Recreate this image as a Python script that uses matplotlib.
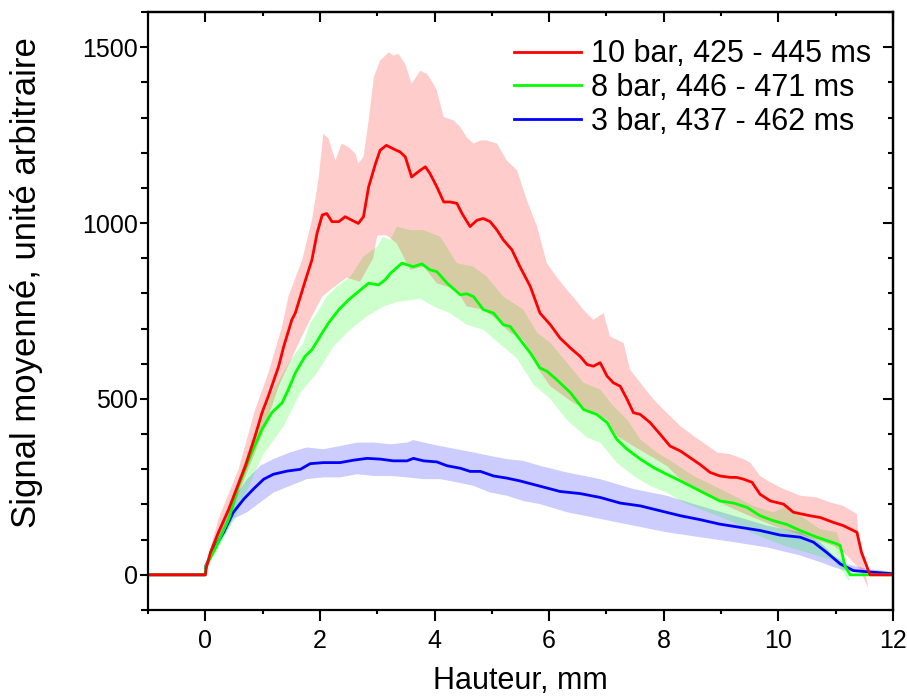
import matplotlib
matplotlib.use('Agg')
import matplotlib.pyplot as plt
import numpy as np
from matplotlib.ticker import MultipleLocator

# mean signal (x in mm)
x_red = [-1, 0, 0.02, 0.09, 0.23, 0.41, 0.52, 0.70, 0.87, 0.99, 1.10, 1.28, 1.37, 1.51, 1.57, 1.75, 1.86, 1.95,
         2.04, 2.12, 2.21, 2.33, 2.44, 2.56, 2.67, 2.76, 2.85, 2.97, 3.05, 3.16, 3.28, 3.40, 3.49, 3.60, 3.75,
         3.84, 3.92, 4.04, 4.16, 4.27, 4.39, 4.48, 4.62, 4.74, 4.85, 4.97, 5.09, 5.20, 5.35, 5.49, 5.67, 5.84,
         6.02, 6.19, 6.37, 6.54, 6.66, 6.77, 6.89, 7.01, 7.12, 7.24, 7.36, 7.47, 7.59, 7.76, 7.94, 8.11, 8.29,
         8.46, 8.63, 8.81, 8.98, 9.16, 9.27, 9.39, 9.54, 9.68, 9.86, 10.09, 10.26, 10.55, 10.73, 10.96, 11.13,
         11.37, 11.45, 11.57, 11.60, 12]
y_red = [0, 0, 22, 64, 121, 187, 234, 310, 395, 461, 508, 593, 650, 725, 744, 839, 895, 971,
         1023, 1027, 1004, 1004, 1018, 1008, 999, 1018, 1103, 1169, 1207, 1221, 1211, 1202, 1188, 1131, 1150,
         1160, 1141, 1103, 1060, 1060, 1056, 1027, 990, 1008, 1013, 1004, 980, 952, 924, 876, 820, 744,
         711, 673, 645, 621, 598, 593, 603, 565, 546, 536, 499, 461, 456, 433, 399, 366, 352,
         333, 314, 291, 281, 277, 277, 272, 263, 229, 210, 201, 178, 168, 163, 149, 140,
         121, 64, 12, 0, 0]

x_green = [-1, 0, 0.01, 0.17, 0.41, 0.58, 0.81, 0.99, 1.16, 1.34, 1.45, 1.57, 1.74, 1.86, 2.04, 2.15, 2.33,
           2.50, 2.67, 2.85, 3.02, 3.14, 3.23, 3.43, 3.63, 3.78, 3.92, 4.04, 4.22, 4.45, 4.56, 4.68, 4.85,
           5.03, 5.20, 5.32, 5.49, 5.67, 5.84, 5.96, 6.13, 6.37, 6.60, 6.83, 7.01, 7.18, 7.36, 7.59, 7.82,
           8.05, 8.29, 8.52, 8.75, 8.98, 9.22, 9.45, 9.68, 9.91, 10.15, 10.38, 10.67, 11.02, 11.08, 11.16,
           11.25, 12]
y_green = [0, 0, 26, 74, 159, 253, 348, 414, 461, 489, 527, 574, 621, 640, 688, 716, 754,
           782, 805, 829, 824, 839, 857, 886, 876, 884, 867, 862, 829, 796, 799, 791, 754,
           744, 711, 706, 669, 631, 588, 579, 555, 518, 470, 456, 433, 385, 357, 329, 305,
           286, 267, 248, 229, 210, 204, 192, 168, 154, 143, 126, 107, 88, 83, 26,
           0, 0]

x_blue = [-1, 0, 0.01, 0.15, 0.32, 0.49, 0.67, 0.84, 1.02, 1.19, 1.43, 1.66, 1.83, 2.06, 2.35, 2.59, 2.82,
          3.05, 3.28, 3.52, 3.63, 3.81, 4.04, 4.22, 4.45, 4.62, 4.80, 5.03, 5.26, 5.49, 5.84, 6.19, 6.54,
          6.89, 7.24, 7.59, 7.94, 8.29, 8.63, 8.98, 9.33, 9.68, 10.03, 10.38, 10.61, 10.84, 11.08, 11.31,
          11.60, 12.0]
y_blue = [0, 0, 26, 74, 121, 178, 215, 244, 272, 286, 295, 300, 316, 319, 319, 326, 331,
          329, 324, 324, 331, 324, 321, 310, 303, 294, 294, 281, 275, 267, 252, 237, 231,
          220, 204, 196, 182, 168, 157, 144, 135, 126, 113, 107, 93, 64, 31, 12,
          8, 3]

# spread (shaded band), upper and lower edges
xu_red = [0, 0.02, 0.23, 0.58, 0.87, 1.10, 1.34, 1.45, 1.69, 1.86, 1.98, 2.06, 2.15, 2.27, 2.38, 2.50, 2.62,
          2.67, 2.76, 2.85, 2.94, 3.05, 3.20, 3.28, 3.37, 3.49, 3.60, 3.75, 3.87, 3.98, 4.04, 4.16, 4.33,
          4.45, 4.56, 4.68, 4.80, 4.91, 5.09, 5.26, 5.44, 5.61, 5.79, 5.96, 6.13, 6.31, 6.42, 6.60, 6.77,
          6.95, 7.06, 7.30, 7.41, 7.59, 7.82, 8.05, 8.29, 8.52, 8.69, 8.93, 9.16, 9.39, 9.51, 9.68, 9.86,
          10.09, 10.38, 10.67, 10.90, 11.13, 11.37, 11.40, 11.48, 11.57]
yu_red = [0, 30, 159, 300, 470, 574, 706, 791, 895, 1008, 1131, 1254, 1240, 1178, 1226, 1216, 1197,
          1169, 1188, 1292, 1414, 1462, 1485, 1476, 1481, 1452, 1396, 1433, 1424, 1396, 1377, 1301, 1292,
          1273, 1244, 1226, 1235, 1235, 1226, 1178, 1150, 1065, 990, 886, 847, 810, 790, 753, 725,
          744, 678, 659, 584, 546, 499, 461, 423, 395, 376, 348, 343, 329, 319, 281, 263,
          244, 225, 220, 206, 196, 173, 111, 45, -40]
xl_red = [0, 0.02, 0.25, 0.5, 0.75, 1.0, 1.28, 1.66, 1.86, 2.04, 2.18, 2.47, 2.70, 2.93, 3.00, 3.17, 3.34,
          3.58, 3.81, 4.04, 4.39, 4.56, 4.85, 5.09, 5.32, 5.55, 5.79, 6.02, 6.42, 6.66, 7.01, 7.18, 7.47,
          7.76, 8.05, 8.29, 8.63, 8.93, 9.22, 9.56, 9.91, 10.26, 10.61, 10.96, 11.19, 11.42, 11.57]
yl_red = [0, 15, 95, 195, 300, 400, 536, 669, 735, 791, 810, 845, 833, 900, 965, 965, 942,
          867, 876, 829, 810, 763, 754, 725, 688, 669, 590, 536, 489, 470, 442, 395, 366,
          338, 310, 272, 234, 210, 187, 163, 140, 121, 102, 83, 55, 17, -40]

xu_green = [0, 0.02, 0.5, 1.0, 1.48, 1.71, 1.83, 1.95, 2.12, 2.30, 2.53, 2.76, 3.00, 3.10, 3.23, 3.34, 3.58,
            3.81, 4.10, 4.39, 4.68, 4.91, 5.20, 5.55, 5.79, 6.02, 6.31, 6.60, 6.89, 7.12, 7.36, 7.59, 7.88,
            8.17, 8.52, 8.75, 9.22, 9.56, 9.91, 10.15, 10.38, 10.73, 11.02, 11.10, 11.19, 11.25]
yu_green = [0, 25, 235, 470, 610, 659, 716, 744, 791, 820, 848, 905, 933, 961, 952, 990, 980,
            980, 961, 886, 876, 848, 791, 754, 688, 660, 603, 546, 527, 480, 442, 385, 348,
            319, 281, 263, 225, 196, 178, 196, 168, 130, 121, 83, 8, -11]
xl_green = [0, 0.02, 0.5, 1.0, 1.37, 1.66, 1.95, 2.24, 2.53, 2.82, 3.11, 3.34, 3.75, 3.98, 4.27, 4.56, 4.85,
            5.15, 5.44, 5.73, 6.02, 6.31, 6.66, 6.89, 7.18, 7.47, 7.76, 8.05, 8.34, 8.63, 8.93, 9.22, 9.51,
            9.80, 10.09, 10.38, 10.67, 10.96, 11.13, 11.22]
yl_green = [0, 15, 155, 340, 423, 518, 574, 650, 697, 735, 763, 775, 785, 763, 744, 711, 697,
            655, 615, 540, 500, 440, 390, 376, 319, 281, 253, 234, 206, 187, 168, 149, 121,
            102, 83, 69, 55, 41, 8, -16]

xu_blue = [0, 0.01, 0.26, 0.49, 0.73, 0.96, 1.19, 1.48, 1.77, 2.06, 2.35, 2.65, 2.94, 3.23, 3.52, 3.63, 3.81,
           4.10, 4.39, 4.68, 4.97, 5.26, 5.55, 5.84, 6.31, 6.89, 7.47, 8.05, 8.63, 9.22, 9.80, 10.38, 10.73,
           10.96, 11.19, 11.54, 12]
yu_blue = [0, 30, 140, 215, 272, 310, 329, 348, 362, 357, 366, 376, 376, 371, 376, 383, 376,
           366, 357, 348, 338, 329, 324, 310, 291, 272, 244, 225, 196, 168, 140, 121, 93,
           55, 31, 17, 8]
xl_blue = [0, 0.01, 0.26, 0.49, 0.73, 0.96, 1.19, 1.48, 1.77, 2.06, 2.35, 2.65, 2.94, 3.23, 3.52, 3.81, 4.10,
           4.39, 4.68, 4.97, 5.26, 5.55, 5.84, 6.31, 6.89, 7.47, 8.05, 8.63, 9.22, 9.80, 10.38, 10.73, 10.96,
           11.25, 12]
yl_blue = [0, 20, 90, 159, 178, 206, 234, 253, 272, 277, 277, 286, 281, 281, 277, 272, 272,
           263, 253, 234, 225, 210, 201, 178, 159, 140, 121, 107, 93, 78, 55, 36, 22,
           8, 3]

labels = ['10 bar, 425 - 445 ms', '8 bar, 446 - 471 ms', '3 bar, 437 - 462 ms']

plt.rcParams['font.family'] = ['Liberation Sans', 'DejaVu Sans']

fig = plt.figure(figsize=(9.07, 6.97), dpi=100)
ax = fig.add_axes([148/907, 87/697, 745/907, 598/697])

# draw order: blue, green, red (fill then line) so the overlaps tint like the original
series = [
    (x_blue, y_blue, xu_blue, yu_blue, xl_blue, yl_blue, '#0000ff', labels[2]),
    (x_green, y_green, xu_green, yu_green, xl_green, yl_green, '#00ff00', labels[1]),
    (x_red, y_red, xu_red, yu_red, xl_red, yl_red, '#ff0000', labels[0]),
]
handles = {}
for x, y, xu, yu, xl, yl, col, lab in series:
    px = np.concatenate([xu, xl[::-1]])
    py = np.concatenate([yu, yl[::-1]])
    ax.fill(px, py, color=col, alpha=0.2, lw=0)
    ln, = ax.plot(x, y, color=col, lw=2.0, label=lab)
    handles[lab] = ln

ax.set_xlim(-1, 12)
ax.set_ylim(-100, 1600)

ax.xaxis.set_major_locator(MultipleLocator(2))
ax.xaxis.set_minor_locator(MultipleLocator(1))
ax.yaxis.set_major_locator(MultipleLocator(500))
ax.yaxis.set_minor_locator(MultipleLocator(100))

for s in ax.spines.values():
    s.set_linewidth(1.6)

ax.tick_params(axis='x', which='major', direction='out', length=8, width=1.5, labelsize=18, pad=6, top=False)
ax.tick_params(axis='x', which='minor', direction='out', length=3, width=1.5, top=False)
ax.tick_params(axis='y', which='major', direction='out', length=5.5, width=1.5, labelsize=18, pad=2, right=False)
ax.tick_params(axis='y', which='minor', direction='out', length=5, width=1.5, right=False)

# inward ticks on the top and right sides
top = ax.secondary_xaxis('top')
top.xaxis.set_major_locator(MultipleLocator(2))
top.xaxis.set_minor_locator(MultipleLocator(1))
top.tick_params(which='major', direction='in', length=7, width=1.5, labeltop=False)
top.tick_params(which='minor', direction='in', length=3, width=1.5)
top.spines['top'].set_linewidth(1.6)
right = ax.secondary_yaxis('right')
right.yaxis.set_major_locator(MultipleLocator(500))
right.yaxis.set_minor_locator(MultipleLocator(100))
right.tick_params(which='major', direction='in', length=7, width=1.5, labelright=False)
right.tick_params(which='minor', direction='in', length=3.5, width=1.5)
right.spines['right'].set_linewidth(1.6)

ax.set_xlabel('Hauteur, mm', fontsize=22, labelpad=9)
ax.set_ylabel('Signal moyenné, unité arbitraire', fontsize=25)
ax.yaxis.set_label_coords(-0.141, 0.548)

ax.legend([handles[l] for l in labels], labels, loc='upper right', frameon=False, fontsize=22,
          handlelength=2.2, handletextpad=0.35, labelspacing=0.12, borderaxespad=0.3,
          bbox_to_anchor=(1.0, 0.99))

fig.savefig('out.png', dpi=100)
